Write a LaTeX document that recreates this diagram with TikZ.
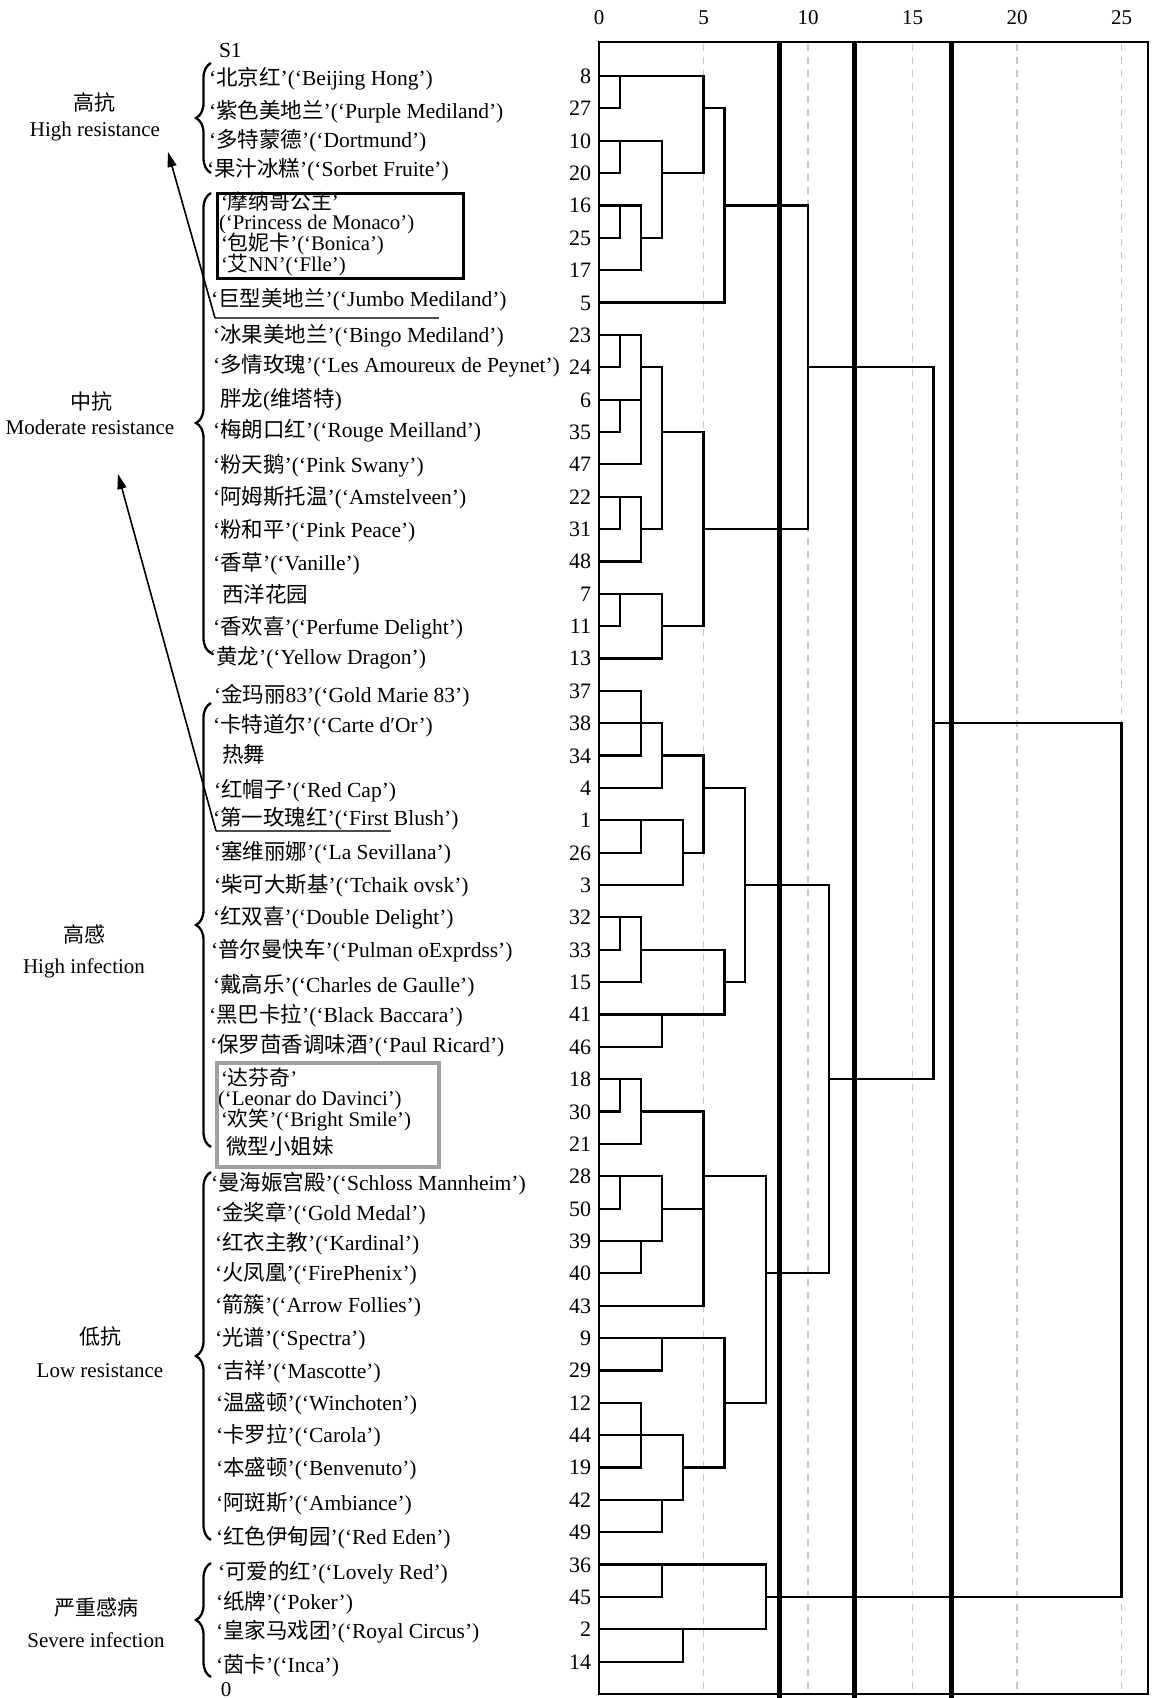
\documentclass[tikz,border=0pt]{standalone}
\usepackage{fontspec}
\setmainfont{Liberation Serif}
\newfontfamily\cjk{Noto Sans CJK SC}
\usetikzlibrary{arrows.meta,decorations.pathreplacing}
\newcommand{\zh}[1]{{\cjk #1}}
\begin{document}
\begin{tikzpicture}[x=1pt,y=-1pt,
  every node/.style={inner sep=0pt, outer sep=0pt},
  lab/.style={anchor=base west, yshift=-7.5pt, font=\fontsize{21.5}{24}\selectfont},
  tight/.style={anchor=base west, yshift=-7pt, font=\fontsize{20.8}{22}\selectfont},
  num/.style={anchor=base east, yshift=-7.5pt, font=\fontsize{22}{24}\selectfont},
  axl/.style={anchor=base, yshift=-7.5pt, font=\fontsize{21}{24}\selectfont},
  grp/.style={anchor=base, yshift=-7.5pt, font=\fontsize{21}{24}\selectfont},
  dline/.style={line width=2.2pt, line cap=rect},
  gridline/.style={line width=1.3pt, gray!45, dash pattern=on 7pt off 6pt},
  thickline/.style={line width=5pt},
  boxframe/.style={line width=2.8pt},
  bracestyle/.style={decorate, decoration={brace, amplitude=15pt}, line width=2.3pt},
  arr/.style={line width=1.6pt, -{Triangle[length=15pt,width=9pt]}},
  uline/.style={line width=1.5pt, black!70}
]
\useasboundingbox (0,0) rectangle (1157,1698);

% grid lines
\foreach \u in {5,10,15,20,25}
  \draw[gridline] ({599+20.9*\u},44) -- ({599+20.9*\u},1692);

% axis labels
\foreach \u [count=\k] in {0,5,10,15,20,25}
  \node[axl] (ax\k) at ({599+20.9*\u},17) {\u};

% dendrogram horizontals: row/from/to (column index)
\foreach \r/\a/\b in {0/0/5,1/0/1,1/5/6,2/0/3,3/0/1,3/3/5,4/0/2,4/6/10,5/0/1,5/2/3,
  6/0/2,7/0/6,8/0/2,9/0/1,9/2/3,9/10/16,10/0/2,11/0/1,11/3/5,12/0/2,13/0/2,
  14/0/1,14/2/3,14/5/10,15/0/2,16/0/3,17/0/1,17/3/5,18/0/3,19/0/2,20/0/3,20/16/25,
  21/0/2,21/3/5,22/0/3,22/5/7,23/0/4,24/0/2,24/4/5,25/0/4,25/7/11,26/0/2,27/0/1,
  27/2/6,28/0/2,28/6/7,29/0/6,30/0/3,31/0/2,31/11/16,32/0/1,32/2/5,33/0/2,34/0/3,
  34/5/8,35/0/1,35/3/5,36/0/3,37/0/2,37/8/11,38/0/5,39/0/6,40/0/3,41/0/2,41/6/8,
  42/0/4,43/0/2,43/4/6,44/0/4,45/0/3,46/0/8,47/0/3,47/8/25,48/0/8,49/0/4}
  \draw[dline] ({599+20.9*\a},{76+32.36*\r}) -- ({599+20.9*\b},{76+32.36*\r});

% dendrogram verticals: column/fromrow/torow
\foreach \c/\r/\s in {1/0/1,5/0/3,1/2/3,3/2/5,1/4/5,2/4/6,6/1/7,10/4/14,1/8/9,2/8/12,
  1/10/11,3/9/14,1/13/14,2/13/15,5/11/17,1/16/17,3/16/18,16/9/31,2/19/21,3/20/22,
  2/23/24,4/23/25,5/21/24,7/22/28,1/26/27,2/26/28,6/27/29,3/29/30,11/25/37,25/20/47,
  1/31/32,2/31/33,1/34/35,3/34/36,2/36/37,5/32/38,8/34/41,3/39/40,6/39/43,2/41/43,
  4/42/44,3/44/45,3/46/47,8/46/48,4/48/49}
  \draw[dline] ({599+20.9*\c},{76+32.36*\r}) -- ({599+20.9*\c},{76+32.36*\s});

% frame
\draw[boxframe] (599,42) rectangle (1148,1694);

% thick vertical cut lines
\foreach \x in {779,854,951}
  \draw[thickline] (\x,42) -- (\x,1698);

% leaf numbers
\foreach \n [count=\i from 0] in {8,27,10,20,16,25,17,5,23,24,6,35,47,22,31,48,7,11,13,
  37,38,34,4,1,26,3,32,33,15,41,46,18,30,21,28,50,39,40,43,9,29,12,44,19,42,49,36,45,2,14}
  \node[num] (n\i) at (591,{76+32.36*\i}) {\n};

% cultivar labels
\node[lab] (s1) at (219,50) {S1};
\node[lab] (t1) at (209,78) {‘\zh{北京红}’(‘Beijing Hong’)};
\node[lab] (t2) at (209,111) {‘\zh{紫色美地兰}’(‘Purple Mediland’)};
\node[lab] (t3) at (209,140) {‘\zh{多特蒙德}’(‘Dortmund’)};
\node[lab] (t4) at (207,169) {‘\zh{果汁冰糕}’(‘Sorbet Fruite’)};
\node[tight] (t5) at (221,202) {‘\zh{摩纳哥公主}’};
\node[tight] (t6) at (219,222) {(‘Princess de Monaco’)};
\node[tight] (t7) at (221,243) {‘\zh{包妮卡}’(‘Bonica’)};
\node[tight] (t8) at (221,264) {‘\zh{艾}NN’(‘Flle’)};
\node[lab] (t9) at (211,299) {‘\zh{巨型美地兰}’(‘Jumbo Mediland’)};
\node[lab] (t10) at (213,335) {‘\zh{冰果美地兰}’(‘Bingo Mediland’)};
\node[lab] (t11) at (213,365) {‘\zh{多情玫瑰}’(‘Les Amoureux de Peynet’)};
\node[lab] (t12) at (220,399) {\zh{胖龙}(\zh{维塔特})};
\node[lab] (t13) at (213,430) {‘\zh{梅朗口红}’(‘Rouge Meilland’)};
\node[lab] (t14) at (213,465) {‘\zh{粉天鹅}’(‘Pink Swany’)};
\node[lab] (t15) at (213,497) {‘\zh{阿姆斯托温}’(‘Amstelveen’)};
\node[lab] (t16) at (213,530) {‘\zh{粉和平}’(‘Pink Peace’)};
\node[lab] (t17) at (213,563) {‘\zh{香草}’(‘Vanille’)};
\node[lab] (t18) at (222,595) {\zh{西洋花园}};
\node[lab] (t19) at (213,627) {‘\zh{香欢喜}’(‘Perfume Delight’)};
\node[lab] (t20) at (209,657) {‘\zh{黄龙}’(‘Yellow Dragon’)};
\node[lab] (t21) at (214,695) {‘\zh{金玛丽}83’(‘Gold Marie 83’)};
\node[lab] (t22) at (213,725) {‘\zh{卡特道尔}’(‘Carte d′Or’)};
\node[lab] (t23) at (222,755) {\zh{热舞}};
\node[lab] (t24) at (214,790) {‘\zh{红帽子}’(‘Red Cap’)};
\node[lab] (t25) at (213,818) {‘\zh{第一玫瑰红}’(‘First Blush’)};
\node[lab] (t26) at (214,852) {‘\zh{塞维丽娜}’(‘La Sevillana’)};
\node[lab] (t27) at (214,885) {‘\zh{柴可大斯基}’(‘Tchaik ovsk’)};
\node[lab] (t28) at (213,917) {‘\zh{红双喜}’(‘Double Delight’)};
\node[lab] (t29) at (211,950) {‘\zh{普尔曼快车}’(‘Pulman oExprdss’)};
\node[lab] (t30) at (213,985) {‘\zh{戴高乐}’(‘Charles de Gaulle’)};
\node[lab] (t31) at (209,1015) {‘\zh{黑巴卡拉}’(‘Black Baccara’)};
\node[lab] (t32) at (210,1045) {‘\zh{保罗茴香调味酒}’(‘Paul Ricard’)};
\node[tight] (t33) at (221,1078) {‘\zh{达芬奇}’};
\node[tight] (t34) at (218,1098) {(‘Leonar do Davinci’)};
\node[tight] (t35) at (221,1119) {‘\zh{欢笑}’(‘Bright Smile’)};
\node[lab] (t36) at (226,1147) {\zh{微型小姐妹}};
\node[lab] (t37) at (211,1183) {‘\zh{曼海娠宫殿}’(‘Schloss Mannheim’)};
\node[lab] (t38) at (215,1213) {‘\zh{金奖章}’(‘Gold Medal’)};
\node[lab] (t39) at (215,1243) {‘\zh{红衣主教}’(‘Kardinal’)};
\node[lab] (t40) at (215,1273) {‘\zh{火凤凰}’(‘FirePhenix’)};
\node[lab] (t41) at (215,1305) {‘\zh{箭簇}’(‘Arrow Follies’)};
\node[lab] (t42) at (215,1338) {‘\zh{光谱}’(‘Spectra’)};
\node[lab] (t43) at (216,1371) {‘\zh{吉祥}’(‘Mascotte’)};
\node[lab] (t44) at (216,1403) {‘\zh{温盛顿}’(‘Winchoten’)};
\node[lab] (t45) at (216,1435) {‘\zh{卡罗拉}’(‘Carola’)};
\node[lab] (t46) at (216,1468) {‘\zh{本盛顿}’(‘Benvenuto’)};
\node[lab] (t47) at (216,1503) {‘\zh{阿斑斯}’(‘Ambiance’)};
\node[lab] (t48) at (216,1537) {‘\zh{红色伊甸园}’(‘Red Eden’)};
\node[lab] (t49) at (218,1572) {‘\zh{可爱的红}’(‘Lovely Red’)};
\node[lab] (t50) at (216,1602) {‘\zh{纸牌}’(‘Poker’)};
\node[lab] (t51) at (216,1631) {‘\zh{皇家马戏团}’(‘Royal Circus’)};
\node[lab] (t52) at (216,1665) {‘\zh{茵卡}’(‘Inca’)};
\node[axl] (zero) at (226,1689) {0};

% highlight boxes
\draw[boxframe, line width=3pt] (217,193) rectangle (463,278);
\draw[line width=3.5pt, gray!75] (217,1063) rectangle (439,1167);

% underlines
\draw[uline] (215,318) -- (439,318);
\draw[uline] (216,831) -- (391,831);

% group labels
\node[grp] (g1a) at (94,103) {\zh{高抗}};
\node[grp] (g1b) at (95,129) {High resistance};
\node[grp] (g2a) at (91,402) {\zh{中抗}};
\node[grp] (g2b) at (90,427) {Moderate resistance};
\node[grp] (g3a) at (84,935) {\zh{高感}};
\node[grp] (g3b) at (84,966) {High infection};
\node[grp] (g4a) at (100,1337) {\zh{低抗}};
\node[grp] (g4b) at (100,1370) {Low resistance};
\node[grp] (g5a) at (96,1608) {\zh{严重感病}};
\node[grp] (g5b) at (96,1640) {Severe infection};

% braces
\draw[bracestyle] (211,173) -- (211,63);
\draw[bracestyle] (211,653) -- (211,193);
\draw[bracestyle] (211,1147) -- (211,703);
\draw[bracestyle] (211,1540) -- (211,1172);
\draw[bracestyle] (211,1677) -- (211,1563);

% arrows
\coordinate (a1s) at (215,318);
\coordinate (a1e) at (168,152);
\coordinate (a2s) at (216,831);
\coordinate (a2e) at (118,474);
\draw[arr] (a1s) -- (a1e);
\draw[arr] (a2s) -- (a2e);
\end{tikzpicture}
\end{document}
